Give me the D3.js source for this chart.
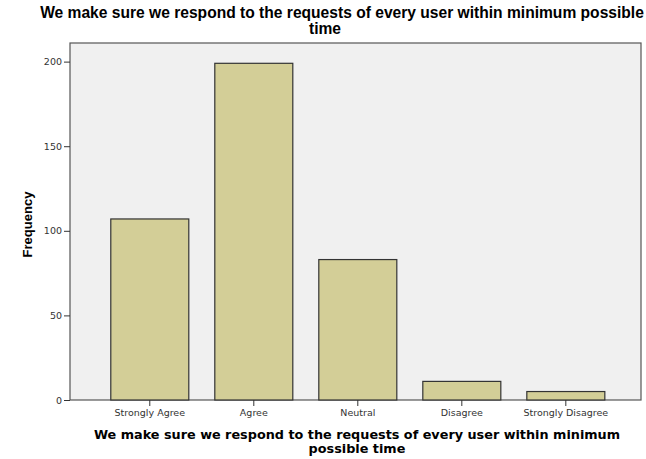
<!DOCTYPE html>
<html>
<head>
<meta charset="utf-8">
<script src="https://cdn.jsdelivr.net/npm/d3@7"></script>
<style>
  body { margin: 0; background: #fff; }
  text { font-family: "Liberation Sans", Arial, sans-serif; }
</style>
</head>
<body>
<div id="viz"></div>
<script>
var categories = ["Strongly Agree", "Agree", "Neutral", "Disagree", "Strongly Disagree"];
var frequencies = [107, 199, 83, 11, 5];
var yTicks = [0, 50, 100, 150, 200];
var titleLines = ["We make sure we respond to the requests of every user within minimum possible", "time"];
var xTitleLines = ["We make sure we respond to the requests of every user within minimum", "possible time"];

var width = 646, height = 459;
var svg = d3.select("#viz").append("svg").attr("width", width).attr("height", height);

var plotLeft = 70, plotRight = 641, plotTop = 43, plotBottom = 400;

var x = d3.scaleBand()
    .domain(categories)
    .range([plotLeft, plotRight])
    .paddingInner(0.25)
    .paddingOuter(0.37)
    .align(0.53);

var y = d3.scaleLinear()
    .domain([0, 211])
    .range([plotBottom, plotTop]);

// plot background
svg.append("rect")
    .attr("x", plotLeft)
    .attr("y", plotTop)
    .attr("width", plotRight - plotLeft)
    .attr("height", plotBottom - plotTop)
    .style("fill", "#f0f0f0")
    .style("stroke", "#555")
    .style("stroke-width", 1.2);

// bars
svg.selectAll(".bar")
  .data(frequencies)
  .enter().append("rect")
    .attr("class", "bar")
    .attr("x", function(d, i) { return x(categories[i]); })
    .attr("y", function(d) { return y(d); })
    .attr("width", x.bandwidth())
    .attr("height", function(d) { return plotBottom - y(d); })
    .style("fill", "#d3ce97")
    .style("stroke", "#333")
    .style("stroke-width", 1.2);

// y axis
var yAxis = svg.append("g")
    .attr("transform", "translate(" + plotLeft + ",0)")
    .call(d3.axisLeft(y).tickValues(yTicks).tickSize(6).tickPadding(2));
yAxis.select(".domain").remove();
yAxis.selectAll("line").style("stroke", "#333");
yAxis.selectAll("text")
    .style("font-family", "'DejaVu Sans', sans-serif")
    .style("font-size", "9.5px").style("fill", "#333");

// x axis
var xAxis = svg.append("g")
    .attr("transform", "translate(0," + plotBottom + ")")
    .call(d3.axisBottom(x).tickSize(6).tickPadding(3));
xAxis.select(".domain").remove();
xAxis.selectAll("line").style("stroke", "#333");
xAxis.selectAll("text")
    .style("font-family", "'DejaVu Sans', sans-serif")
    .style("font-size", "9.5px").style("fill", "#333");

// title
svg.append("text")
    .attr("y", 18)
    .style("text-anchor", "middle")
    .style("font-weight", "bold")
    .style("font-size", "15.6px")
    .selectAll("tspan")
    .data(titleLines)
    .enter().append("tspan")
      .attr("x", function(d, i) { return i ? 325 : 342; })
      .attr("dy", function(d, i) { return i ? 16 : 0; })
      .text(function(d) { return d; });

// x title
svg.append("text")
    .attr("y", 439)
    .style("text-anchor", "middle")
    .style("font-family", "'DejaVu Sans', sans-serif")
    .style("font-weight", "bold")
    .style("font-size", "12.8px")
    .selectAll("tspan")
    .data(xTitleLines)
    .enter().append("tspan")
      .attr("x", 357)
      .attr("dy", function(d, i) { return i ? 13.5 : 0; })
      .text(function(d) { return d; });

// y title
svg.append("text")
    .attr("transform", "translate(32," + ((plotTop + plotBottom) / 2 + 3) + ") rotate(-90)")
    .style("text-anchor", "middle")
    .style("font-weight", "bold")
    .style("font-size", "13px")
    .text("Frequency");
</script>
</body>
</html>
